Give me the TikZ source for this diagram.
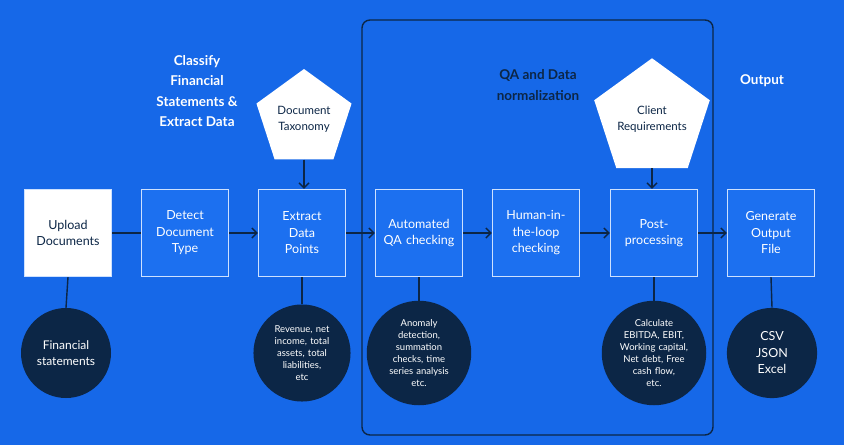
\documentclass[tikz,border=0pt]{standalone}
\usepackage{fontspec}
\setmainfont{Lato}
\usepackage{tikz}
\usetikzlibrary{positioning,shapes.geometric,arrows.meta}
\definecolor{bgblue}{RGB}{22,104,232}
\definecolor{boxblue}{RGB}{28,112,240}
\definecolor{navy}{RGB}{12,38,70}
\definecolor{edgeblue}{RGB}{205,225,255}
\tikzset{
  stage/.style={draw=edgeblue,line width=1.2pt,fill=boxblue,minimum size=87pt,inner sep=0pt,
    text width=82pt,align=center,text=white,font=\fontsize{12.5}{16.5}\selectfont},
  start/.style={stage,fill=white,draw=edgeblue,text=navy},
  note/.style={circle,fill=navy,minimum size=90pt,inner sep=0pt,text width=80pt,align=center,
    text=white,font=\fontsize{9.5}{12}\selectfont},
  source/.style={regular polygon,regular polygon sides=5,fill=white,minimum size=100pt,inner sep=0pt,
    text=navy,align=center,font=\fontsize{11.5}{16}\selectfont},
  flow/.style={navy,line width=1.4pt},
  arrow/.style={flow,-{Straight Barb[length=5pt,width=10pt]}},
  heading/.style={align=center,font=\bfseries\fontsize{13.5}{20.5}\selectfont}
}
\begin{document}
\begin{tikzpicture}[x=1pt,y=-1pt]
  \useasboundingbox (0,0) rectangle (844,445);
  \fill[bgblue] (0,0) rectangle (844,445);
  % group frame
  \draw[navy,line width=1.4pt,rounded corners=8pt] (362,20) rectangle (713,435);
  % headings
  \node[heading,text=white] (hclass) at (197,91) {Classify\\Financial\\Statements \&\\Extract Data};
  \node[heading,text=navy] (hqa) at (538,85) {QA and Data\\normalization};
  \node[heading,text=white] (hout) at (762,81) {Output};
  % stages
  \node[start] (upload) at (68,233) {Upload\\Documents};
  \node[stage] (detect) at (185,233) {Detect\\Document\\Type};
  \node[stage] (extract) at (302,233) {Extract\\Data\\Points};
  \node[stage] (autoqa) at (419,233) {Automated\\QA checking};
  \node[stage] (human) at (536,233) {Human-in-\\the-loop\\checking};
  \node[stage] (post) at (654,233) {Post-\\processing};
  \node[stage] (output) at (771,233) {Generate\\Output\\File};
  % inputs
  \node[source] (taxonomy) at (304,119) {Document\\Taxonomy};
  \node[source] (client) at (652,119) {Client\\Requirements};
  % notes
  \node[note,font=\fontsize{12}{16}\selectfont] (fin) at (66,353) {Financial\\statements};
  \node[note] (fields) at (302,353) {Revenue, net\\income, total\\assets, total\\liabilities,\\etc};
  \node[note] (checks) at (419,353) {Anomaly\\detection,\\summation\\checks, time\\series analysis\\etc.};
  \node[note] (metrics) at (654,353) {Calculate\\EBITDA, EBIT,\\Working capital,\\Net debt, Free\\cash flow,\\etc.};
  \node[note,font=\fontsize{12.5}{16.5}\selectfont] (formats) at (772,353) {CSV\\JSON\\Excel};
  % connectors
  \draw[flow] (upload) -- (detect);
  \draw[arrow] (detect) -- (extract);
  \draw[arrow] (extract) -- (autoqa);
  \draw[arrow] (autoqa) -- (human);
  \draw[arrow] (human) -- (post);
  \draw[arrow] (post) -- (output);
  \draw[arrow] (taxonomy.south) -- (extract.north -| taxonomy.south);
  \draw[arrow] (client.south) -- (post.north -| client.south);
  \foreach \s/\n in {upload/fin,extract/fields,autoqa/checks,post/metrics,output/formats}
    \draw[flow] (\s.south) -- (\n.north);
\end{tikzpicture}
\end{document}
